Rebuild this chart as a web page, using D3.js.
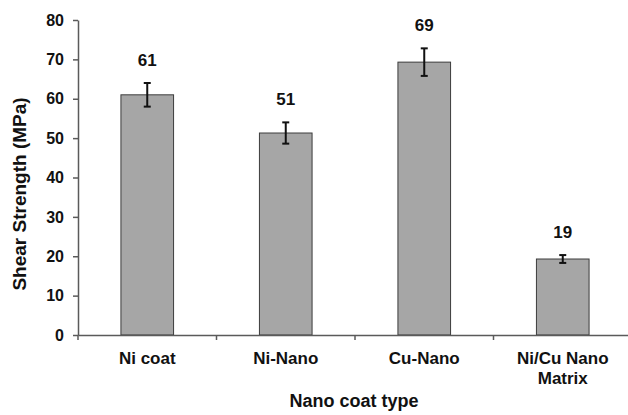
<!DOCTYPE html>
<html>
<head>
<meta charset="utf-8">
<script src="https://cdn.jsdelivr.net/npm/d3@7"></script>
<style>
  body { margin: 0; background: #fff; }
  svg text { font-family: "Liberation Sans", Arial, sans-serif; font-weight: bold; fill: #111; }
</style>
</head>
<body>
<div class="canvas"></div>
<script>
// data
const categories = ["Ni coat", "Ni-Nano", "Cu-Nano", "Ni/Cu Nano\nMatrix"];
const strength = [61.0, 51.3, 69.3, 19.3];
const errors = [3.0, 2.7, 3.5, 1.0];
const yTicks = [0, 10, 20, 30, 40, 50, 60, 70, 80];

const width = 628;
const height = 415;
const margin = { top: 20, right: -4, bottom: 80, left: 78 };

const svg = d3
  .select(".canvas")
  .append("svg")
  .attr("width", width)
  .attr("height", height);

// scales
const x = d3
  .scaleBand()
  .domain(categories)
  .range([margin.left, width - margin.right])
  .paddingInner(0.62)
  .paddingOuter(0.31);

const y = d3
  .scaleLinear()
  .domain([0, 80])
  .range([height - margin.bottom, margin.top]);

const data = categories.map((c, i) => ({ cat: c, value: strength[i], err: errors[i] }));

// bars
svg
  .selectAll(".bar")
  .data(data)
  .enter()
  .append("rect")
  .attr("class", "bar")
  .attr("x", (d) => x(d.cat))
  .attr("y", (d) => y(d.value))
  .attr("width", x.bandwidth())
  .attr("height", (d) => y(0) - y(d.value))
  .attr("fill", "#a6a6a6")
  .attr("stroke", "#3c3c3c")
  .attr("stroke-width", 1);

// error bars
const errG = svg
  .selectAll(".err")
  .data(data)
  .enter()
  .append("g")
  .attr("class", "err")
  .attr("stroke", "#111")
  .attr("stroke-width", 2);

const cx = (d) => x(d.cat) + x.bandwidth() / 2;

errG
  .append("line")
  .attr("x1", cx)
  .attr("x2", cx)
  .attr("y1", (d) => y(d.value + d.err))
  .attr("y2", (d) => y(d.value - d.err));

errG
  .append("line")
  .attr("x1", (d) => cx(d) - 3.5)
  .attr("x2", (d) => cx(d) + 3.5)
  .attr("y1", (d) => y(d.value + d.err))
  .attr("y2", (d) => y(d.value + d.err));

errG
  .append("line")
  .attr("x1", (d) => cx(d) - 3.5)
  .attr("x2", (d) => cx(d) + 3.5)
  .attr("y1", (d) => y(d.value - d.err))
  .attr("y2", (d) => y(d.value - d.err));

// value labels
svg
  .selectAll(".val")
  .data(data)
  .enter()
  .append("text")
  .attr("class", "val")
  .attr("x", cx)
  .attr("y", (d) => y(d.value + d.err) - 17)
  .attr("text-anchor", "middle")
  .style("font-size", "17px")
  .text((d) => d3.format(".0f")(d.value));

// y axis
const yAxis = d3
  .axisLeft(y)
  .tickValues(yTicks)
  .tickSize(5)
  .tickSizeOuter(0)
  .tickPadding(9);

const yAxisGroup = svg
  .append("g")
  .attr("transform", `translate(${margin.left}, 0)`)
  .call(yAxis);

yAxisGroup.selectAll("text").style("font-size", "16px").attr("fill", "#111");

// x axis
const xAxis = d3.axisBottom(x).tickSize(0).tickPadding(17);

const xAxisGroup = svg
  .append("g")
  .attr("transform", `translate(0, ${y(0)})`)
  .call(xAxis);

xAxisGroup.selectAll("text").style("font-size", "17px").attr("fill", "#111");

xAxisGroup.selectAll(".tick text").each(function (d) {
  const lines = d.split("\n");
  const t = d3.select(this).text(null);
  lines.forEach((l, i) => {
    t.append("tspan")
      .attr("x", 0)
      .attr("dy", i === 0 ? "0.71em" : "1.15em")
      .text(l);
  });
});

// category boundary ticks
const bounds = d3.range(categories.length + 1).map((i) => x.range()[0] + i * x.step());
xAxisGroup
  .selectAll(".btick")
  .data(bounds)
  .enter()
  .append("line")
  .attr("class", "btick")
  .attr("x1", (d) => d)
  .attr("x2", (d) => d)
  .attr("y1", 0)
  .attr("y2", 5);

svg.selectAll(".domain, .tick line, .btick")
  .attr("stroke", "#5a5a5a")
  .attr("stroke-width", 1.5);

// axis titles
svg
  .append("text")
  .attr("transform", `translate(26, 194) rotate(-90)`)
  .attr("text-anchor", "middle")
  .style("font-size", "19px")
  .text("Shear Strength (MPa)");

svg
  .append("text")
  .attr("x", 354)
  .attr("y", 407)
  .attr("text-anchor", "middle")
  .style("font-size", "18px")
  .text("Nano coat type");
</script>
</body>
</html>
